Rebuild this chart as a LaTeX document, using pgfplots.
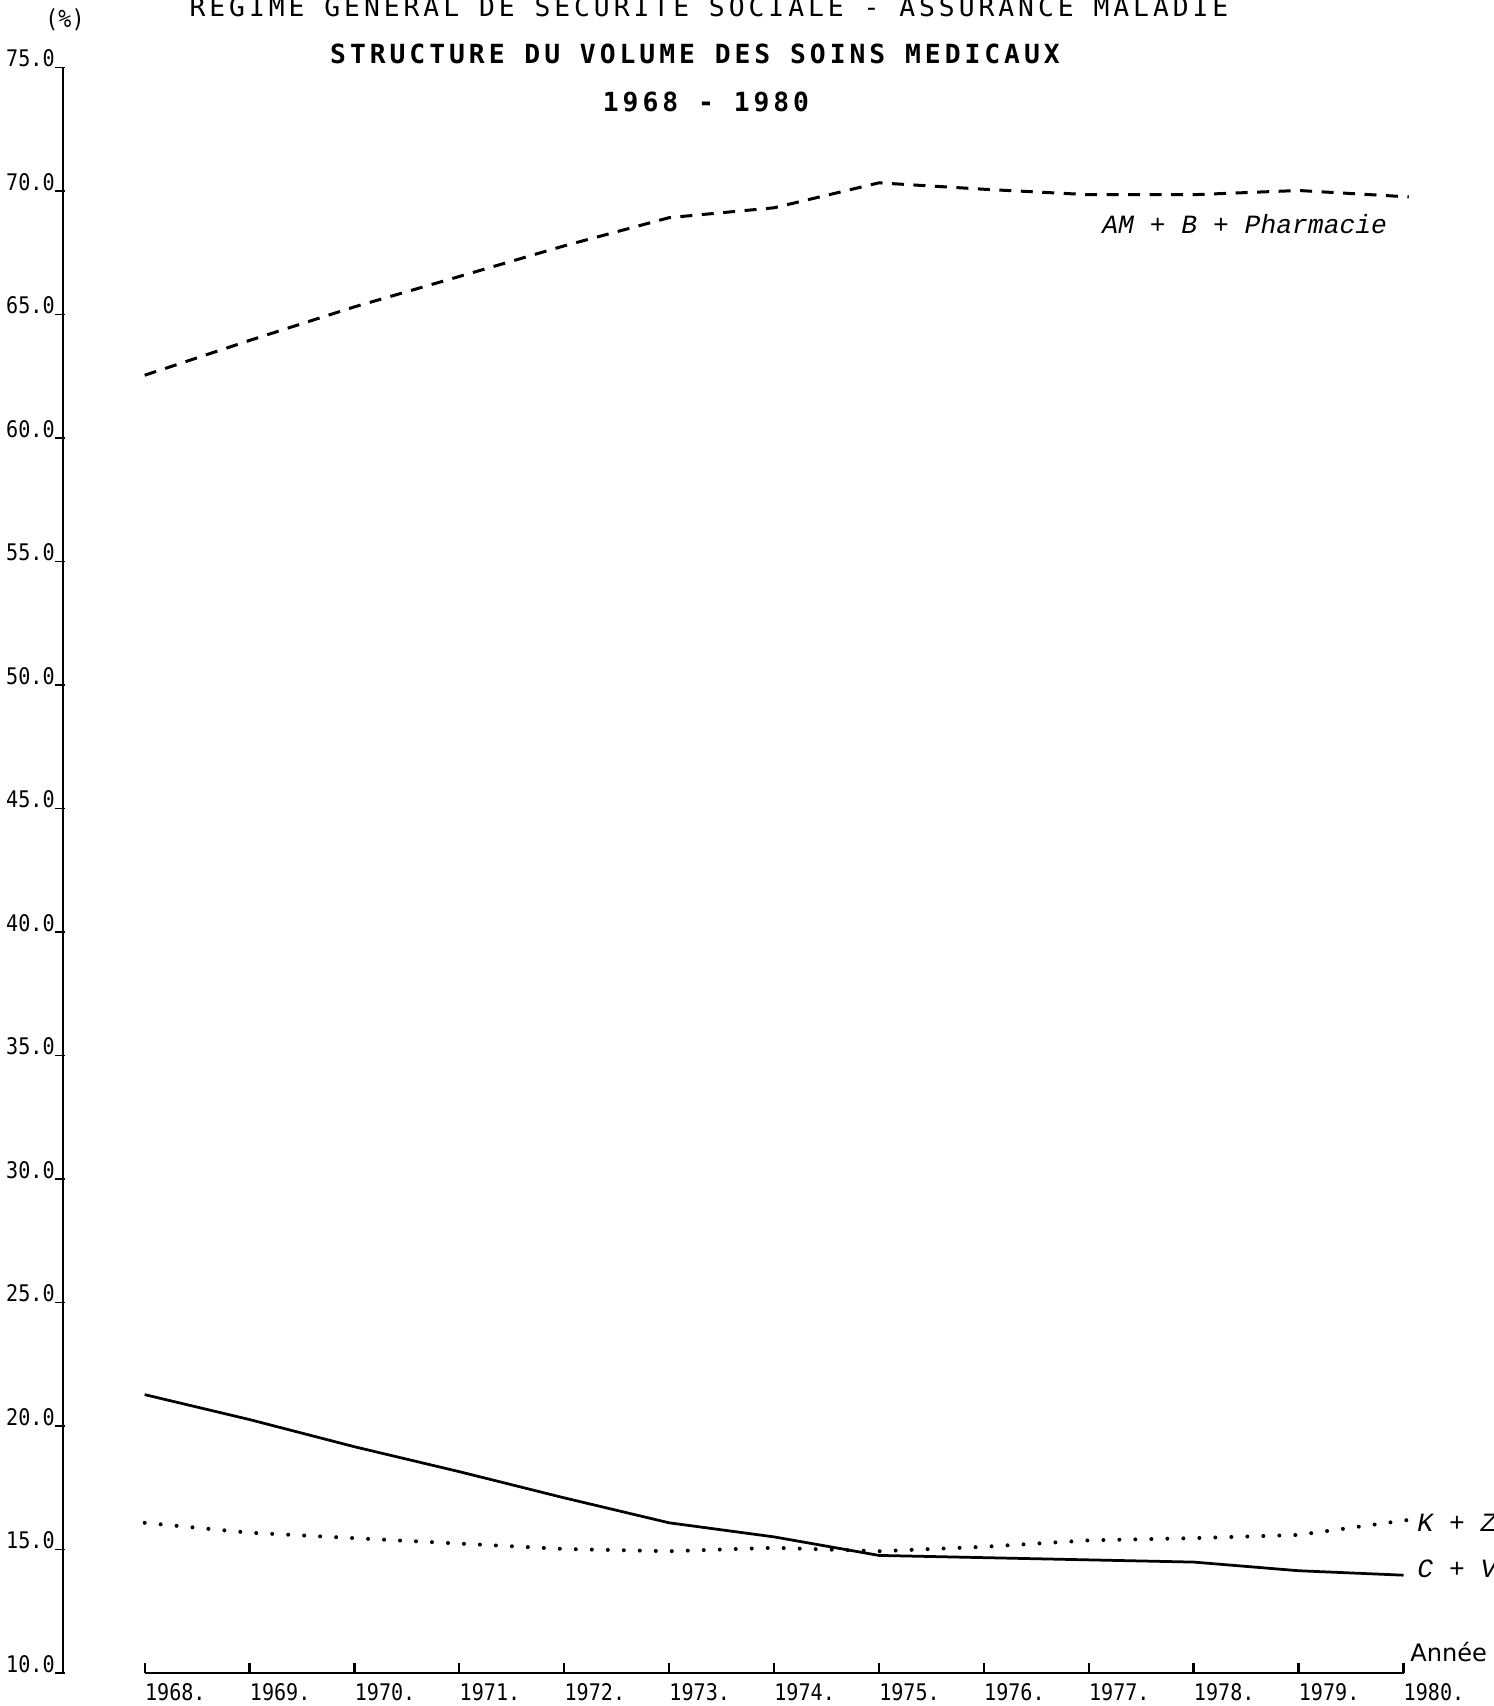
\documentclass[border=0pt]{standalone}
\usepackage{fontspec}
\usepackage{pgfplots}
\pgfplotsset{compat=1.18}
\setmainfont{DejaVu Sans Mono}
\newfontfamily\tickfont[FakeStretch=0.88]{DejaVu Sans Mono}
\newfontfamily\titlefont[LetterSpace=15]{DejaVu Sans Mono}
\newfontfamily\labfont{Liberation Mono}
\newfontfamily\annfont{DejaVu Sans}

\begin{document}
\begin{tikzpicture}
\begin{axis}[
  scale only axis,
  width=268.1mm, height=321.1mm,
  at={(0,0)}, anchor=origin,
  xmin=1967.2212, xmax=1980,
  ymin=10, ymax=75,
  clip=false,
  axis x line*=bottom, axis y line*=left,
  axis line style={-, line width=0.45mm},
  x axis line style={draw=none},
  tick align=inside,
  major tick length=2mm,
  xtick={1968,1969,...,1980},
  xticklabels={1968.,1969.,1970.,1971.,1972.,1973.,1974.,1975.,1976.,1977.,1978.,1979.,1980.},
  ytick={10,15,...,75},
  xtick style={line width=0.45mm, black},
  ytick style={line width=0.35mm, black, xshift=-1.6mm},
  xticklabel style={font=\tickfont\fontsize{13}{14}\selectfont, anchor=north west, inner sep=0pt, yshift=-2mm},
  yticklabel style={font=\tickfont\fontsize{13}{14}\selectfont, anchor=south east, inner sep=0pt, xshift=-1.6mm,
    /pgf/number format/fixed, /pgf/number format/fixed zerofill, /pgf/number format/precision=1,
    /pgf/number format/assume math mode=true},
]
\draw[line width=0.45mm] (axis cs:1968,10) -- (axis cs:1980,10);
% AM + B + Pharmacie
\addplot[black, line width=0.6mm, dash pattern=on 2.4mm off 1.9mm] coordinates {
 (1968,62.54) (1969,63.95) (1970,65.31) (1971,66.54) (1972,67.78) (1973,68.92)
 (1974,69.32) (1975,70.33) (1976,70.07) (1977,69.85) (1978,69.85) (1979,70.02) (1980.05,69.76)};
% C + V
\addplot[black, line width=0.55mm] coordinates {
 (1968,21.27) (1969,20.26) (1970,19.16) (1971,18.15) (1972,17.09) (1973,16.08)
 (1974,15.51) (1975,14.76) (1976,14.67) (1977,14.58) (1978,14.49) (1979,14.14) (1980,13.96)};
% K + Z
\addplot[black, line width=0.8mm, line cap=round, dash pattern=on 0pt off 3.2mm] coordinates {
 (1968,16.08) (1969,15.68) (1970,15.46) (1971,15.24) (1972,15.02) (1973,14.93)
 (1974,15.07) (1975,14.93) (1976,15.11) (1977,15.37) (1978,15.46) (1979,15.59) (1980.05,16.2)};
\end{axis}
% titles and labels (positions in mm, origin at axis lower-left)
\node[anchor=base, inner sep=0pt] at (129.2mm,331.2mm) {\titlefont\fontsize{15}{16}\selectfont REGIME GENERAL DE SECURITE SOCIALE - ASSURANCE MALADIE};
\node[anchor=base, inner sep=0pt] at (126.4mm,321.8mm) {\titlefont\bfseries\fontsize{15}{16}\selectfont STRUCTURE DU VOLUME DES SOINS MEDICAUX};
\node[anchor=base, inner sep=0pt] at (128.6mm,312.2mm) {\titlefont\bfseries\fontsize{15}{16}\selectfont 1968 - 1980};
\node[anchor=base, inner sep=0pt] at (0.4mm,329mm) {\tickfont\fontsize{14}{15}\selectfont (\%)};
\node[anchor=base west, inner sep=0pt] at (207.8mm,287.8mm) {\labfont\itshape\fontsize{15}{16}\selectfont AM + B + Pharmacie};
\node[anchor=base west, inner sep=0pt] at (270.8mm,28.2mm) {\labfont\itshape\fontsize{15}{16}\selectfont K + Z};
\node[anchor=base west, inner sep=0pt] at (270.8mm,19mm) {\labfont\itshape\fontsize{15}{16}\selectfont C + V};
\node[anchor=base west, inner sep=0pt] at (269.4mm,2.2mm) {\annfont\fontsize{13.7}{14}\selectfont Année};
\pgfresetboundingbox
\useasboundingbox (-12.6mm,-6.6mm) rectangle (286.2mm,334.6mm);
\end{tikzpicture}
\end{document}
